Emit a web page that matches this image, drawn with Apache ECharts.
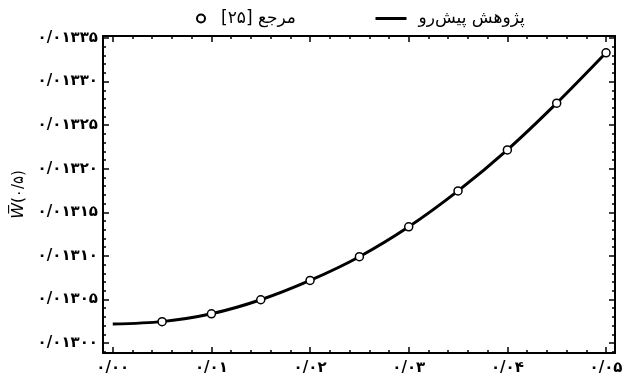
<!DOCTYPE html>
<html>
<head>
<meta charset="utf-8">
<script src="https://cdn.jsdelivr.net/npm/echarts@6/dist/echarts.min.js"></script>
<style>html,body{margin:0;padding:0;background:#fff}#c{width:626px;height:379px}</style>
</head>
<body>
<div id="c"></div>
<script>
// ---- data ----
const seriesNames = ['پژوهش پیش‌رو', 'مرجع [۲۵]'];
const xCurrent = [0, 0.005, 0.01, 0.015, 0.02, 0.025, 0.03, 0.035, 0.04, 0.045, 0.05];
const wCurrent = [0.0130218, 0.0130245, 0.0130335, 0.0130496, 0.0130718, 0.0130990, 0.0131333, 0.0131745, 0.0132216, 0.0132752, 0.0133330];
const xRef = [0.005, 0.01, 0.015, 0.02, 0.025, 0.03, 0.035, 0.04, 0.045, 0.05];
const wRef = [0.0130245, 0.0130335, 0.0130496, 0.0130718, 0.0130990, 0.0131333, 0.0131745, 0.0132216, 0.0132752, 0.0133330];
const xTickValues = [0, 0.01, 0.02, 0.03, 0.04, 0.05];
const yTickValues = [0.01300, 0.01305, 0.01310, 0.01315, 0.01320, 0.01325, 0.01330, 0.01335];
const yAxisName = '{w|W̅}(۰/۵)';

// ---- helpers ----
const fa = '۰۱۲۳۴۵۶۷۸۹';
function toFa(s) { return s.replace(/[0-9]/g, d => fa[+d]).replace('.', '/'); }
const xMin = -0.00099, xMax = 0.05091;
const yMin = 0.0129885, yMax = 0.0133523;
function minorTicks(major, lo, hi, n) {
  const step = (major[1] - major[0]) / n, out = [];
  for (let v = major[0] - 2 * (major[1] - major[0]); v <= hi + 1e-12; v += step) {
    const r = +v.toFixed(8);
    if (r > lo && r < hi && !major.some(m => Math.abs(m - r) < step / 10)) out.push(r);
  }
  return out;
}
const xMinor = minorTicks(xTickValues, xMin, xMax, 5);
const yMinor = minorTicks(yTickValues, yMin, yMax, 5);
const labelFont = { color: '#000', fontFamily: 'DejaVu Sans', fontWeight: 'bold', fontSize: 15 };

function axis(dim, pos, ticks, len, label, line) {
  const a = {
    type: 'value', position: pos,
    min: dim === 'x' ? xMin : yMin, max: dim === 'x' ? xMax : yMax,
    axisLine: { show: line, onZero: false, lineStyle: { color: '#000', width: 2 } },
    axisTick: { show: true, inside: true, length: len, customValues: ticks, lineStyle: { color: '#000', width: 1.5 } },
    axisLabel: { show: false },
    splitLine: { show: false }
  };
  if (label) {
    a.axisLabel = Object.assign({
      show: true, customValues: ticks, margin: dim === 'x' ? 8 : 5,
      formatter: v => toFa(v.toFixed(dim === 'x' ? 2 : 5))
    }, labelFont);
  }
  return a;
}

const yMain = axis('y', 'left', yTickValues, 6, true, true);
yMain.name = yAxisName;
yMain.nameLocation = 'middle';
yMain.nameRotate = 90;
yMain.nameGap = 76;
yMain.nameTextStyle = { color: '#000', fontFamily: 'DejaVu Sans', fontSize: 15, rich: { w: { fontStyle: 'italic', fontFamily: 'DejaVu Sans', fontSize: 16, color: '#000' } } };

const legendText = { color: '#000', fontFamily: 'DejaVu Sans', fontSize: 17 };
const chart = echarts.init(document.getElementById('c'), null, { renderer: 'canvas' });
chart.setOption({
  animation: false,
  backgroundColor: '#fff',
  grid: { left: 103, right: 11, top: 36, bottom: 26, containLabel: false },
  legend: [
    {
      data: [{ name: seriesNames[1] }],
      left: 181, top: 5, itemWidth: 30, itemHeight: 10,
      formatter: n => '\u2067' + n + '\u2069',
      textStyle: legendText
    },
    {
      data: [{ name: seriesNames[0], itemStyle: { opacity: 0 }, lineStyle: { width: 3, color: '#000' } }],
      left: 369, top: 5, itemWidth: 31, itemHeight: 10,
      formatter: n => '\u2067' + n + '\u2069',
      textStyle: Object.assign({ padding: [0, 0, 0, 7] }, legendText)
    }
  ],
  xAxis: [
    axis('x', 'bottom', xTickValues, 6, true, true),
    axis('x', 'bottom', xMinor, 3, false, false),
    axis('x', 'top', xTickValues, 6, false, true),
    axis('x', 'top', xMinor, 3, false, false)
  ],
  yAxis: [
    yMain,
    axis('y', 'left', yMinor, 3, false, false),
    axis('y', 'right', yTickValues, 6, false, true),
    axis('y', 'right', yMinor, 3, false, false)
  ],
  series: [
    {
      name: seriesNames[0], type: 'line', xAxisIndex: 0, yAxisIndex: 0,
      data: xCurrent.map((x, i) => [x, wCurrent[i]]),
      smooth: 0.3, symbol: 'none', z: 2,
      lineStyle: { color: '#000', width: 3 }, itemStyle: { color: '#000' }
    },
    {
      name: seriesNames[1], type: 'line', xAxisIndex: 0, yAxisIndex: 0,
      data: xRef.map((x, i) => [x, wRef[i]]),
      symbol: 'circle', symbolSize: 8, showSymbol: true, z: 5,
      lineStyle: { width: 0, opacity: 0 },
      itemStyle: { color: '#fff', borderColor: '#000', borderWidth: 1.5 }
    }
  ]
});
</script>
</body>
</html>
